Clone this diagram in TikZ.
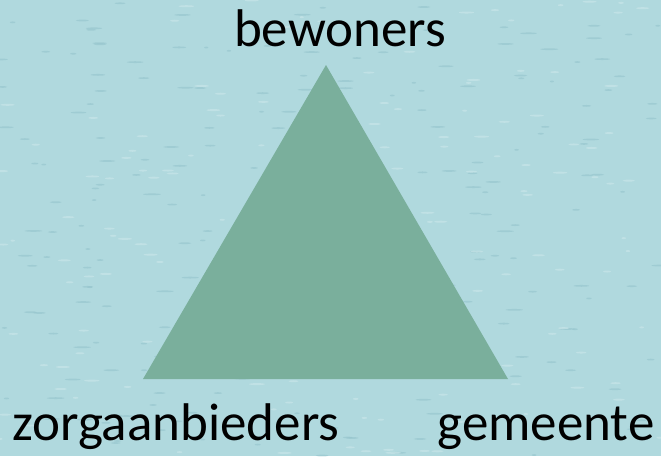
\documentclass[tikz,border=0pt]{standalone}
\usepackage{fontspec}
\setmainfont{Carlito}
\definecolor{bgblue}{HTML}{B0D9DE}
\definecolor{bgspeck}{HTML}{95C4CC}
\definecolor{bglight}{HTML}{C8E5E8}
\definecolor{trigreen}{HTML}{7AAF9C}
\tikzset{
  label text/.style={font=\fontsize{53}{53}\selectfont, text=black, inner sep=0pt, anchor=base},
}
\begin{document}
\begin{tikzpicture}[x=1pt,y=-1pt]
  \fill[bgblue] (0,0) rectangle (661,456);
  \useasboundingbox (0,0) rectangle (661,456);
  % subtle background texture
  \pgfmathsetseed{7}
  \foreach \i in {1,...,220}{
    \pgfmathsetmacro{\px}{rnd*661}
    \pgfmathsetmacro{\py}{rnd*456}
    \pgfmathsetmacro{\pl}{2+rnd*7}
    \fill[bgspeck, opacity=0.6] (\px,\py) ellipse ({\pl} and 0.9);
  }
  \foreach \i in {1,...,160}{
    \pgfmathsetmacro{\px}{rnd*661}
    \pgfmathsetmacro{\py}{rnd*456}
    \pgfmathsetmacro{\pl}{2+rnd*6}
    \fill[bglight, opacity=0.7] (\px,\py) ellipse ({\pl} and 1.0);
  }
  \coordinate (apex) at (326,65);
  \coordinate (bl) at (143,379);
  \coordinate (br) at (508,379);
  \fill[trigreen] (apex) -- (bl) -- (br) -- cycle;
  \node[label text] (bew) at (340,46) {bewoners};
  \node[label text] (zorg) at (176,440) {zorgaanbieders};
  \node[label text] (gem) at (546,440) {gemeente};
\end{tikzpicture}
\end{document}
